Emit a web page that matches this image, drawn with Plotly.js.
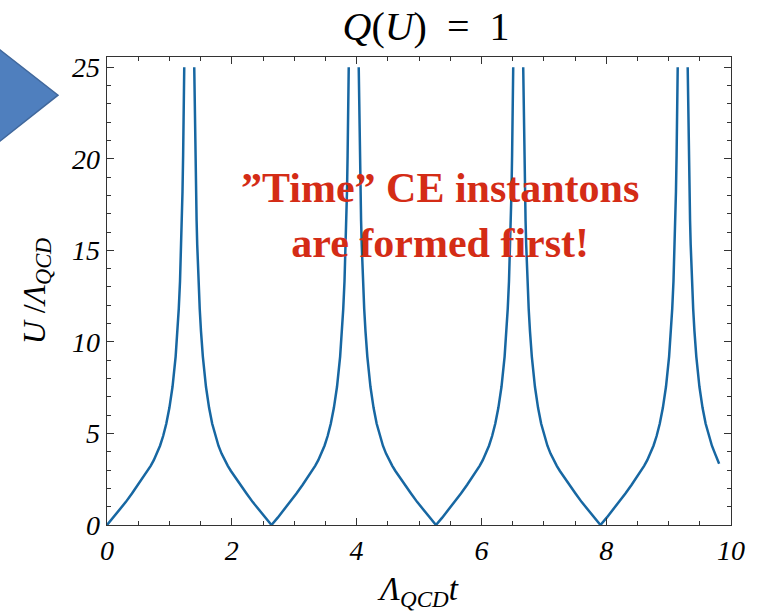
<!DOCTYPE html>
<html>
<head>
<meta charset="utf-8">
<script src="https://cdn.plot.ly/plotly-3.0.1.min.js"></script>
<style>html,body{margin:0;padding:0;background:#fff;}#chart{width:758px;height:616px;}</style>
</head>
<body>
<div id="chart"></div>
<script>
// Branches of U(t) between the divergences
const t1 = [0, 0.1, 0.2, 0.3, 0.4, 0.5, 0.55, 0.6, 0.65, 0.7, 0.75, 0.8, 0.85, 0.9, 0.95, 1.0, 1.05, 1.1, 1.13, 1.15, 1.17, 1.19, 1.2, 1.21, 1.22, 1.23, 1.238];
const u1 = [0, 0.4, 0.82, 1.25, 1.72, 2.2, 2.44, 2.69, 2.95, 3.23, 3.54, 3.9, 4.33, 4.86, 5.53, 6.4, 7.55, 9.2, 10.6, 11.8, 13.3, 15.3, 16.6, 18.2, 20.2, 22.5, 25];

const t2 = [1.398, 1.406, 1.416, 1.426, 1.436, 1.446, 1.466, 1.486, 1.506, 1.536, 1.586, 1.636, 1.686, 1.736, 1.786, 1.836, 1.886, 1.936, 1.986, 2.036, 2.086, 2.136, 2.236, 2.336, 2.436, 2.536, 2.636,
            2.736, 2.836, 2.936, 3.036, 3.136, 3.186, 3.236, 3.286, 3.336, 3.386, 3.436, 3.486, 3.536, 3.586, 3.636, 3.686, 3.736, 3.766, 3.786, 3.806, 3.826, 3.836, 3.846, 3.856, 3.866, 3.874];
const u2 = [25, 22.5, 20.2, 18.2, 16.6, 15.3, 13.3, 11.8, 10.6, 9.2, 7.55, 6.4, 5.53, 4.86, 4.33, 3.9, 3.54, 3.23, 2.95, 2.69, 2.44, 2.2, 1.72, 1.25, 0.82, 0.4, 0,
            0.4, 0.82, 1.25, 1.72, 2.2, 2.44, 2.69, 2.95, 3.23, 3.54, 3.9, 4.33, 4.86, 5.53, 6.4, 7.55, 9.2, 10.6, 11.8, 13.3, 15.3, 16.6, 18.2, 20.2, 22.5, 25];

const t3 = [4.034, 4.042, 4.052, 4.062, 4.072, 4.082, 4.102, 4.122, 4.142, 4.172, 4.222, 4.272, 4.322, 4.372, 4.422, 4.472, 4.522, 4.572, 4.622, 4.672, 4.722, 4.772, 4.872, 4.972, 5.072, 5.172, 5.272,
            5.372, 5.472, 5.572, 5.672, 5.772, 5.822, 5.872, 5.922, 5.972, 6.022, 6.072, 6.122, 6.172, 6.222, 6.272, 6.322, 6.372, 6.402, 6.422, 6.442, 6.462, 6.472, 6.482, 6.492, 6.502, 6.510];
const u3 = [25, 22.5, 20.2, 18.2, 16.6, 15.3, 13.3, 11.8, 10.6, 9.2, 7.55, 6.4, 5.53, 4.86, 4.33, 3.9, 3.54, 3.23, 2.95, 2.69, 2.44, 2.2, 1.72, 1.25, 0.82, 0.4, 0,
            0.4, 0.82, 1.25, 1.72, 2.2, 2.44, 2.69, 2.95, 3.23, 3.54, 3.9, 4.33, 4.86, 5.53, 6.4, 7.55, 9.2, 10.6, 11.8, 13.3, 15.3, 16.6, 18.2, 20.2, 22.5, 25];

const t4 = [6.670, 6.678, 6.688, 6.698, 6.708, 6.718, 6.738, 6.758, 6.778, 6.808, 6.858, 6.908, 6.958, 7.008, 7.058, 7.108, 7.158, 7.208, 7.258, 7.308, 7.358, 7.408, 7.508, 7.608, 7.708, 7.808, 7.908,
            8.008, 8.108, 8.208, 8.308, 8.408, 8.458, 8.508, 8.558, 8.608, 8.658, 8.708, 8.758, 8.808, 8.858, 8.908, 8.958, 9.008, 9.038, 9.058, 9.078, 9.098, 9.108, 9.118, 9.128, 9.138, 9.146];
const u4 = [25, 22.5, 20.2, 18.2, 16.6, 15.3, 13.3, 11.8, 10.6, 9.2, 7.55, 6.4, 5.53, 4.86, 4.33, 3.9, 3.54, 3.23, 2.95, 2.69, 2.44, 2.2, 1.72, 1.25, 0.82, 0.4, 0,
            0.4, 0.82, 1.25, 1.72, 2.2, 2.44, 2.69, 2.95, 3.23, 3.54, 3.9, 4.33, 4.86, 5.53, 6.4, 7.55, 9.2, 10.6, 11.8, 13.3, 15.3, 16.6, 18.2, 20.2, 22.5, 25];

const t5 = [9.306, 9.314, 9.324, 9.334, 9.344, 9.354, 9.374, 9.394, 9.414, 9.444, 9.494, 9.544, 9.594, 9.644, 9.694, 9.744, 9.81];
const u5 = [25, 22.5, 20.2, 18.2, 16.6, 15.3, 13.3, 11.8, 10.6, 9.2, 7.55, 6.4, 5.53, 4.86, 4.33, 3.9, 3.35];

const xTickVals = [0, 2, 4, 6, 8, 10];
const yTickVals = [0, 5, 10, 15, 20, 25];

const branchesT = [t1, t2, t3, t4, t5];
const branchesU = [u1, u2, u3, u4, u5];
let X = [], Y = [];
branchesT.forEach((tb, i) => {
  if (i > 0) { X.push(null); Y.push(null); }
  X = X.concat(tb); Y = Y.concat(branchesU[i]);
});

const serif = 'Liberation Serif';

const trace = {
  x: X, y: Y, type: 'scatter', mode: 'lines',
  line: {color: '#1767a2', width: 2.5},
  connectgaps: false, hoverinfo: 'skip'
};

const axisCommon = {
  showgrid: false, zeroline: false, showline: true, linecolor: '#333', linewidth: 1.3,
  mirror: 'allticks', ticks: 'inside', ticklen: 7, tickwidth: 1.2, tickcolor: '#333',
  tickfont: {family: serif, size: 28, color: '#000', style: 'italic'}
};

const layout = {
  width: 758, height: 616,
  margin: {l: 107, r: 27, t: 57, b: 91},
  paper_bgcolor: '#fff', plot_bgcolor: '#fff',
  showlegend: false,
  title: {
    text: '<i>Q</i>(<i>U</i>)&nbsp; =&nbsp; 1',
    font: {family: serif, size: 40, color: '#000'},
    x: 0.562, xanchor: 'center', y: 0.958, yanchor: 'middle'
  },
  xaxis: Object.assign({}, axisCommon, {
    range: [0, 10], tickvals: xTickVals, ticktext: xTickVals.map(String),
    minor: {dtick: 0.5, ticks: 'inside', ticklen: 4, tickwidth: 1, tickcolor: '#333'},
    title: {text: '<i>Λ</i><sub><i>QCD</i></sub><i>t</i>', font: {family: serif, size: 33, color: '#000'}, standoff: 12}
  }),
  yaxis: Object.assign({}, axisCommon, {
    range: [0, 25.56], tickvals: yTickVals, ticktext: yTickVals.map(String),
    minor: {dtick: 1, ticks: 'inside', ticklen: 4, tickwidth: 1, tickcolor: '#333'},
    title: {text: '<i>U</i> /<i>Λ</i><sub><i>QCD</i></sub>', font: {family: serif, size: 32, color: '#000'}, standoff: 17}
  }),
  shapes: [{
    type: 'path', xref: 'paper', yref: 'paper',
    path: 'M -0.2 1.045 L -0.0785 0.9185 L -0.2 0.79 Z',
    fillcolor: '#4f7fbe', line: {color: '#41689c', width: 1.5}
  }],
  annotations: [{
    xref: 'paper', yref: 'paper', x: 0.534, y: 0.662, xanchor: 'center', yanchor: 'middle',
    text: '”Time” CE instantons<br>are formed first!', showarrow: false, align: 'center',
    font: {family: serif, size: 42, color: '#d42c16', weight: 'bold'}
  }]
};

Plotly.newPlot('chart', [trace], layout, {staticPlot: true, displayModeBar: false});
</script>
</body>
</html>
